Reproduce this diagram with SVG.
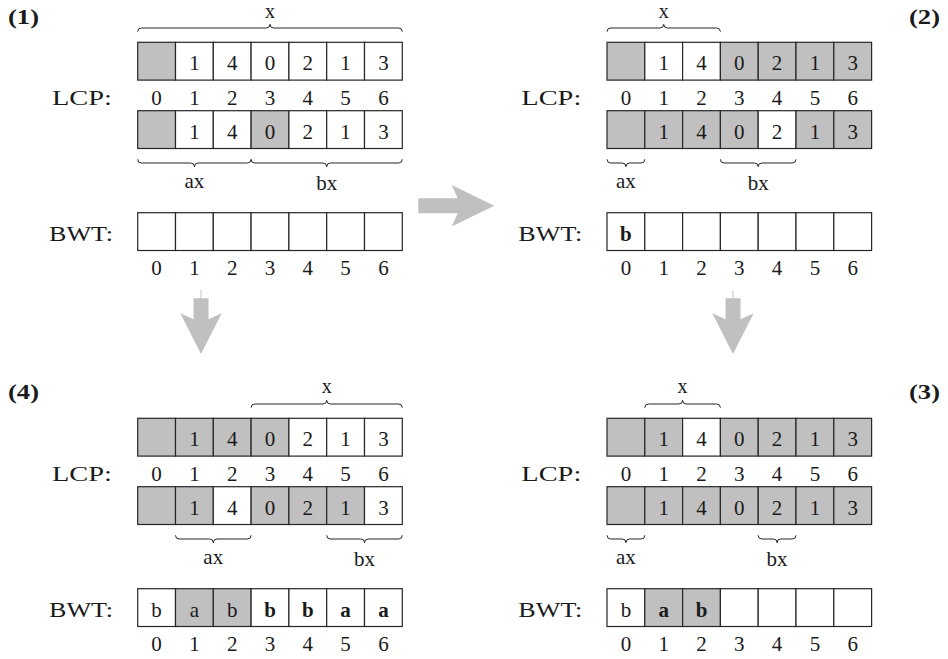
<svg xmlns="http://www.w3.org/2000/svg" width="948" height="659" viewBox="0 0 948 659">
<defs>
<style>
.bg{fill:#ffffff}
.c{fill:#ffffff;stroke:#262626;stroke-width:1.2}
.g{fill:#c0c0c0;stroke:#262626;stroke-width:1.2}
.t{font-family:"Liberation Serif","Times New Roman",serif;font-size:21px;fill:#1a1a1a;text-anchor:middle}
.xl{font-family:"Liberation Serif","Times New Roman",serif;font-size:20px;fill:#1a1a1a;text-anchor:middle}
.b{font-weight:bold}
.lab{font-family:"Liberation Serif","Times New Roman",serif;font-size:22px;fill:#1a1a1a;text-anchor:end}
.pn{font-family:"Liberation Serif","Times New Roman",serif;font-size:22px;font-weight:bold;fill:#1a1a1a}
.br{fill:none;stroke:#262626;stroke-width:1}
.ar{fill:#c0c0c0;stroke:none}
.stem{stroke:#c0c0c0;stroke-width:1}
</style>
</defs>
<rect class="bg" x="0" y="0" width="948" height="659"/>

<!-- Panel 1 -->
<g id="panel1" transform="translate(137.7,42.3)">
  <text class="pn" x="-129.7" y="-18" textLength="31" lengthAdjust="spacingAndGlyphs">(1)</text>
  <path class="br" d="M0,-10.6 Q0,-14.3 3.7,-14.3 L128.6,-14.3 Q132.3,-14.3 132.3,-18 Q132.3,-14.3 136,-14.3 L260.9,-14.3 Q264.6,-14.3 264.6,-10.6"/>
  <text class="xl" x="132.3" y="-24.2">x</text>
  <rect class="g" x="0" y="0" width="37.8" height="37.8"/>
  <rect class="c" x="37.8" y="0" width="37.8" height="37.8"/>
  <rect class="c" x="75.6" y="0" width="37.8" height="37.8"/>
  <rect class="c" x="113.4" y="0" width="37.8" height="37.8"/>
  <rect class="c" x="151.2" y="0" width="37.8" height="37.8"/>
  <rect class="c" x="189" y="0" width="37.8" height="37.8"/>
  <rect class="c" x="226.8" y="0" width="37.8" height="37.8"/>
  <text class="t" x="56.7" y="28">1</text><text class="t" x="94.5" y="28">4</text><text class="t" x="132.3" y="28">0</text><text class="t" x="170.1" y="28">2</text><text class="t" x="207.9" y="28">1</text><text class="t" x="245.7" y="28">3</text>
  <text class="lab" x="-25.7" y="62.4" textLength="60" lengthAdjust="spacingAndGlyphs">LCP:</text>
  <text class="t" x="18.9" y="62.4">0</text><text class="t" x="56.7" y="62.4">1</text><text class="t" x="94.5" y="62.4">2</text><text class="t" x="132.3" y="62.4">3</text><text class="t" x="170.1" y="62.4">4</text><text class="t" x="207.9" y="62.4">5</text><text class="t" x="245.7" y="62.4">6</text>
  <rect class="g" x="0" y="68.4" width="37.8" height="37.8"/>
  <rect class="c" x="37.8" y="68.4" width="37.8" height="37.8"/>
  <rect class="c" x="75.6" y="68.4" width="37.8" height="37.8"/>
  <rect class="g" x="113.4" y="68.4" width="37.8" height="37.8"/>
  <rect class="c" x="151.2" y="68.4" width="37.8" height="37.8"/>
  <rect class="c" x="189" y="68.4" width="37.8" height="37.8"/>
  <rect class="c" x="226.8" y="68.4" width="37.8" height="37.8"/>
  <text class="t" x="56.7" y="96.4">1</text><text class="t" x="94.5" y="96.4">4</text><text class="t" x="132.3" y="96.4">0</text><text class="t" x="170.1" y="96.4">2</text><text class="t" x="207.9" y="96.4">1</text><text class="t" x="245.7" y="96.4">3</text>
  <path class="br" d="M0,117 Q0,120.7 3.7,120.7 L53,120.7 Q56.7,120.7 56.7,124.4 Q56.7,120.7 60.4,120.7 L109.7,120.7 Q113.4,120.7 113.4,117"/>
  <path class="br" d="M113.4,117 Q113.4,120.7 117.1,120.7 L185.3,120.7 Q189,120.7 189,124.4 Q189,120.7 192.7,120.7 L260.9,120.7 Q264.6,120.7 264.6,117"/>
  <text class="t" x="56.7" y="146.2">ax</text>
  <text class="t" x="189" y="148.2">bx</text>
  <text class="lab" x="-24.7" y="198.4" textLength="64" lengthAdjust="spacingAndGlyphs">BWT:</text>
  <rect class="c" x="0" y="170.4" width="37.8" height="37.8"/>
  <rect class="c" x="37.8" y="170.4" width="37.8" height="37.8"/>
  <rect class="c" x="75.6" y="170.4" width="37.8" height="37.8"/>
  <rect class="c" x="113.4" y="170.4" width="37.8" height="37.8"/>
  <rect class="c" x="151.2" y="170.4" width="37.8" height="37.8"/>
  <rect class="c" x="189" y="170.4" width="37.8" height="37.8"/>
  <rect class="c" x="226.8" y="170.4" width="37.8" height="37.8"/>
  <text class="t" x="18.9" y="233.2">0</text><text class="t" x="56.7" y="233.2">1</text><text class="t" x="94.5" y="233.2">2</text><text class="t" x="132.3" y="233.2">3</text><text class="t" x="170.1" y="233.2">4</text><text class="t" x="207.9" y="233.2">5</text><text class="t" x="245.7" y="233.2">6</text>
</g>

<!-- Panel 2 -->
<g id="panel2" transform="translate(607,42.3)">
  <text class="pn" x="333" y="-18" text-anchor="end" textLength="31" lengthAdjust="spacingAndGlyphs">(2)</text>
  <path class="br" d="M0,-10.6 Q0,-14.3 3.7,-14.3 L53,-14.3 Q56.7,-14.3 56.7,-18 Q56.7,-14.3 60.4,-14.3 L109.7,-14.3 Q113.4,-14.3 113.4,-10.6"/>
  <text class="xl" x="56.7" y="-24.2">x</text>
  <rect class="g" x="0" y="0" width="37.8" height="37.8"/>
  <rect class="c" x="37.8" y="0" width="37.8" height="37.8"/>
  <rect class="c" x="75.6" y="0" width="37.8" height="37.8"/>
  <rect class="g" x="113.4" y="0" width="37.8" height="37.8"/>
  <rect class="g" x="151.2" y="0" width="37.8" height="37.8"/>
  <rect class="g" x="189" y="0" width="37.8" height="37.8"/>
  <rect class="g" x="226.8" y="0" width="37.8" height="37.8"/>
  <text class="t" x="56.7" y="28">1</text><text class="t" x="94.5" y="28">4</text><text class="t" x="132.3" y="28">0</text><text class="t" x="170.1" y="28">2</text><text class="t" x="207.9" y="28">1</text><text class="t" x="245.7" y="28">3</text>
  <text class="lab" x="-25.7" y="62.4" textLength="60" lengthAdjust="spacingAndGlyphs">LCP:</text>
  <text class="t" x="18.9" y="62.4">0</text><text class="t" x="56.7" y="62.4">1</text><text class="t" x="94.5" y="62.4">2</text><text class="t" x="132.3" y="62.4">3</text><text class="t" x="170.1" y="62.4">4</text><text class="t" x="207.9" y="62.4">5</text><text class="t" x="245.7" y="62.4">6</text>
  <rect class="g" x="0" y="68.4" width="37.8" height="37.8"/>
  <rect class="g" x="37.8" y="68.4" width="37.8" height="37.8"/>
  <rect class="g" x="75.6" y="68.4" width="37.8" height="37.8"/>
  <rect class="g" x="113.4" y="68.4" width="37.8" height="37.8"/>
  <rect class="c" x="151.2" y="68.4" width="37.8" height="37.8"/>
  <rect class="g" x="189" y="68.4" width="37.8" height="37.8"/>
  <rect class="g" x="226.8" y="68.4" width="37.8" height="37.8"/>
  <text class="t" x="56.7" y="96.4">1</text><text class="t" x="94.5" y="96.4">4</text><text class="t" x="132.3" y="96.4">0</text><text class="t" x="170.1" y="96.4">2</text><text class="t" x="207.9" y="96.4">1</text><text class="t" x="245.7" y="96.4">3</text>
  <path class="br" d="M0,117 Q0,120.7 3.7,120.7 L15.2,120.7 Q18.9,120.7 18.9,124.4 Q18.9,120.7 22.6,120.7 L34.1,120.7 Q37.8,120.7 37.8,117"/>
  <path class="br" d="M113.4,117 Q113.4,120.7 117.1,120.7 L147.5,120.7 Q151.2,120.7 151.2,124.4 Q151.2,120.7 154.9,120.7 L185.3,120.7 Q189,120.7 189,117"/>
  <text class="t" x="18.9" y="146.2">ax</text>
  <text class="t" x="151.2" y="148.2">bx</text>
  <text class="lab" x="-24.7" y="198.4" textLength="64" lengthAdjust="spacingAndGlyphs">BWT:</text>
  <rect class="c" x="0" y="170.4" width="37.8" height="37.8"/>
  <rect class="c" x="37.8" y="170.4" width="37.8" height="37.8"/>
  <rect class="c" x="75.6" y="170.4" width="37.8" height="37.8"/>
  <rect class="c" x="113.4" y="170.4" width="37.8" height="37.8"/>
  <rect class="c" x="151.2" y="170.4" width="37.8" height="37.8"/>
  <rect class="c" x="189" y="170.4" width="37.8" height="37.8"/>
  <rect class="c" x="226.8" y="170.4" width="37.8" height="37.8"/>
  <text class="t b" x="18.9" y="198.4">b</text>
  <text class="t" x="18.9" y="233.2">0</text><text class="t" x="56.7" y="233.2">1</text><text class="t" x="94.5" y="233.2">2</text><text class="t" x="132.3" y="233.2">3</text><text class="t" x="170.1" y="233.2">4</text><text class="t" x="207.9" y="233.2">5</text><text class="t" x="245.7" y="233.2">6</text>
</g>

<!-- Panel 3 -->
<g id="panel3" transform="translate(607,418.3)">
  <text class="pn" x="333" y="-19.5" text-anchor="end" textLength="31" lengthAdjust="spacingAndGlyphs">(3)</text>
  <path class="br" d="M37.8,-10.6 Q37.8,-14.3 41.5,-14.3 L71.9,-14.3 Q75.6,-14.3 75.6,-18 Q75.6,-14.3 79.3,-14.3 L109.7,-14.3 Q113.4,-14.3 113.4,-10.6"/>
  <text class="xl" x="75.6" y="-25.5">x</text>
  <rect class="g" x="0" y="0" width="37.8" height="37.8"/>
  <rect class="g" x="37.8" y="0" width="37.8" height="37.8"/>
  <rect class="c" x="75.6" y="0" width="37.8" height="37.8"/>
  <rect class="g" x="113.4" y="0" width="37.8" height="37.8"/>
  <rect class="g" x="151.2" y="0" width="37.8" height="37.8"/>
  <rect class="g" x="189" y="0" width="37.8" height="37.8"/>
  <rect class="g" x="226.8" y="0" width="37.8" height="37.8"/>
  <text class="t" x="56.7" y="28">1</text><text class="t" x="94.5" y="28">4</text><text class="t" x="132.3" y="28">0</text><text class="t" x="170.1" y="28">2</text><text class="t" x="207.9" y="28">1</text><text class="t" x="245.7" y="28">3</text>
  <text class="lab" x="-25.7" y="62.4" textLength="60" lengthAdjust="spacingAndGlyphs">LCP:</text>
  <text class="t" x="18.9" y="62.4">0</text><text class="t" x="56.7" y="62.4">1</text><text class="t" x="94.5" y="62.4">2</text><text class="t" x="132.3" y="62.4">3</text><text class="t" x="170.1" y="62.4">4</text><text class="t" x="207.9" y="62.4">5</text><text class="t" x="245.7" y="62.4">6</text>
  <rect class="g" x="0" y="68.4" width="37.8" height="37.8"/>
  <rect class="g" x="37.8" y="68.4" width="37.8" height="37.8"/>
  <rect class="g" x="75.6" y="68.4" width="37.8" height="37.8"/>
  <rect class="g" x="113.4" y="68.4" width="37.8" height="37.8"/>
  <rect class="g" x="151.2" y="68.4" width="37.8" height="37.8"/>
  <rect class="g" x="189" y="68.4" width="37.8" height="37.8"/>
  <rect class="g" x="226.8" y="68.4" width="37.8" height="37.8"/>
  <text class="t" x="56.7" y="96.4">1</text><text class="t" x="94.5" y="96.4">4</text><text class="t" x="132.3" y="96.4">0</text><text class="t" x="170.1" y="96.4">2</text><text class="t" x="207.9" y="96.4">1</text><text class="t" x="245.7" y="96.4">3</text>
  <path class="br" d="M0,117 Q0,120.7 3.7,120.7 L15.2,120.7 Q18.9,120.7 18.9,124.4 Q18.9,120.7 22.6,120.7 L34.1,120.7 Q37.8,120.7 37.8,117"/>
  <path class="br" d="M151.2,117 Q151.2,120.7 154.9,120.7 L166.4,120.7 Q170.1,120.7 170.1,124.4 Q170.1,120.7 173.8,120.7 L185.3,120.7 Q189,120.7 189,117"/>
  <text class="t" x="18.9" y="146.2">ax</text>
  <text class="t" x="170.1" y="148.2">bx</text>
  <text class="lab" x="-24.7" y="198.4" textLength="64" lengthAdjust="spacingAndGlyphs">BWT:</text>
  <rect class="c" x="0" y="170.4" width="37.8" height="37.8"/>
  <rect class="g" x="37.8" y="170.4" width="37.8" height="37.8"/>
  <rect class="g" x="75.6" y="170.4" width="37.8" height="37.8"/>
  <rect class="c" x="113.4" y="170.4" width="37.8" height="37.8"/>
  <rect class="c" x="151.2" y="170.4" width="37.8" height="37.8"/>
  <rect class="c" x="189" y="170.4" width="37.8" height="37.8"/>
  <rect class="c" x="226.8" y="170.4" width="37.8" height="37.8"/>
  <text class="t" x="18.9" y="198.4">b</text><text class="t b" x="56.7" y="198.4">a</text><text class="t b" x="94.5" y="198.4">b</text>
  <text class="t" x="18.9" y="233.2">0</text><text class="t" x="56.7" y="233.2">1</text><text class="t" x="94.5" y="233.2">2</text><text class="t" x="132.3" y="233.2">3</text><text class="t" x="170.1" y="233.2">4</text><text class="t" x="207.9" y="233.2">5</text><text class="t" x="245.7" y="233.2">6</text>
</g>

<!-- Panel 4 -->
<g id="panel4" transform="translate(137.7,418.3)">
  <text class="pn" x="-129.7" y="-19.5" textLength="31" lengthAdjust="spacingAndGlyphs">(4)</text>
  <path class="br" d="M113.4,-10.6 Q113.4,-14.3 117.1,-14.3 L185.3,-14.3 Q189,-14.3 189,-18 Q189,-14.3 192.7,-14.3 L260.9,-14.3 Q264.6,-14.3 264.6,-10.6"/>
  <text class="xl" x="189" y="-25.5">x</text>
  <rect class="g" x="0" y="0" width="37.8" height="37.8"/>
  <rect class="g" x="37.8" y="0" width="37.8" height="37.8"/>
  <rect class="g" x="75.6" y="0" width="37.8" height="37.8"/>
  <rect class="g" x="113.4" y="0" width="37.8" height="37.8"/>
  <rect class="c" x="151.2" y="0" width="37.8" height="37.8"/>
  <rect class="c" x="189" y="0" width="37.8" height="37.8"/>
  <rect class="c" x="226.8" y="0" width="37.8" height="37.8"/>
  <text class="t" x="56.7" y="28">1</text><text class="t" x="94.5" y="28">4</text><text class="t" x="132.3" y="28">0</text><text class="t" x="170.1" y="28">2</text><text class="t" x="207.9" y="28">1</text><text class="t" x="245.7" y="28">3</text>
  <text class="lab" x="-25.7" y="62.4" textLength="60" lengthAdjust="spacingAndGlyphs">LCP:</text>
  <text class="t" x="18.9" y="62.4">0</text><text class="t" x="56.7" y="62.4">1</text><text class="t" x="94.5" y="62.4">2</text><text class="t" x="132.3" y="62.4">3</text><text class="t" x="170.1" y="62.4">4</text><text class="t" x="207.9" y="62.4">5</text><text class="t" x="245.7" y="62.4">6</text>
  <rect class="g" x="0" y="68.4" width="37.8" height="37.8"/>
  <rect class="g" x="37.8" y="68.4" width="37.8" height="37.8"/>
  <rect class="c" x="75.6" y="68.4" width="37.8" height="37.8"/>
  <rect class="g" x="113.4" y="68.4" width="37.8" height="37.8"/>
  <rect class="g" x="151.2" y="68.4" width="37.8" height="37.8"/>
  <rect class="g" x="189" y="68.4" width="37.8" height="37.8"/>
  <rect class="c" x="226.8" y="68.4" width="37.8" height="37.8"/>
  <text class="t" x="56.7" y="96.4">1</text><text class="t" x="94.5" y="96.4">4</text><text class="t" x="132.3" y="96.4">0</text><text class="t" x="170.1" y="96.4">2</text><text class="t" x="207.9" y="96.4">1</text><text class="t" x="245.7" y="96.4">3</text>
  <path class="br" d="M37.8,117 Q37.8,120.7 41.5,120.7 L71.9,120.7 Q75.6,120.7 75.6,124.4 Q75.6,120.7 79.3,120.7 L109.7,120.7 Q113.4,120.7 113.4,117"/>
  <path class="br" d="M189,117 Q189,120.7 192.7,120.7 L223.1,120.7 Q226.8,120.7 226.8,124.4 Q226.8,120.7 230.5,120.7 L260.9,120.7 Q264.6,120.7 264.6,117"/>
  <text class="t" x="75.6" y="146.2">ax</text>
  <text class="t" x="226.8" y="148.2">bx</text>
  <text class="lab" x="-24.7" y="198.4" textLength="64" lengthAdjust="spacingAndGlyphs">BWT:</text>
  <rect class="c" x="0" y="170.4" width="37.8" height="37.8"/>
  <rect class="g" x="37.8" y="170.4" width="37.8" height="37.8"/>
  <rect class="g" x="75.6" y="170.4" width="37.8" height="37.8"/>
  <rect class="c" x="113.4" y="170.4" width="37.8" height="37.8"/>
  <rect class="c" x="151.2" y="170.4" width="37.8" height="37.8"/>
  <rect class="c" x="189" y="170.4" width="37.8" height="37.8"/>
  <rect class="c" x="226.8" y="170.4" width="37.8" height="37.8"/>
  <text class="t" x="18.9" y="198.4">b</text><text class="t" x="56.7" y="198.4">a</text><text class="t" x="94.5" y="198.4">b</text><text class="t b" x="132.3" y="198.4">b</text><text class="t b" x="170.1" y="198.4">b</text><text class="t b" x="207.9" y="198.4">a</text><text class="t b" x="245.7" y="198.4">a</text>
  <text class="t" x="18.9" y="233.2">0</text><text class="t" x="56.7" y="233.2">1</text><text class="t" x="94.5" y="233.2">2</text><text class="t" x="132.3" y="233.2">3</text><text class="t" x="170.1" y="233.2">4</text><text class="t" x="207.9" y="233.2">5</text><text class="t" x="245.7" y="233.2">6</text>
</g>

<!-- Connectors -->
<g id="connectors">
  <polygon class="ar" points="418.3,198.3 457.7,198.3 451.7,185 494.3,205.8 451.7,226.6 457.7,213.3 418.3,213.3"/>
  <line class="stem" x1="201" y1="290" x2="201" y2="299"/>
  <polygon class="ar" points="193.5,298.3 208.5,298.3 208.5,319.3 221.7,313.3 201,354 180.3,313.3 193.5,319.3"/>
  <line class="stem" x1="733" y1="291" x2="733" y2="299"/>
  <polygon class="ar" points="725.5,298.3 740.5,298.3 740.5,319.3 753.7,313.3 733,354 712.3,313.3 725.5,319.3"/>
</g>
</svg>
